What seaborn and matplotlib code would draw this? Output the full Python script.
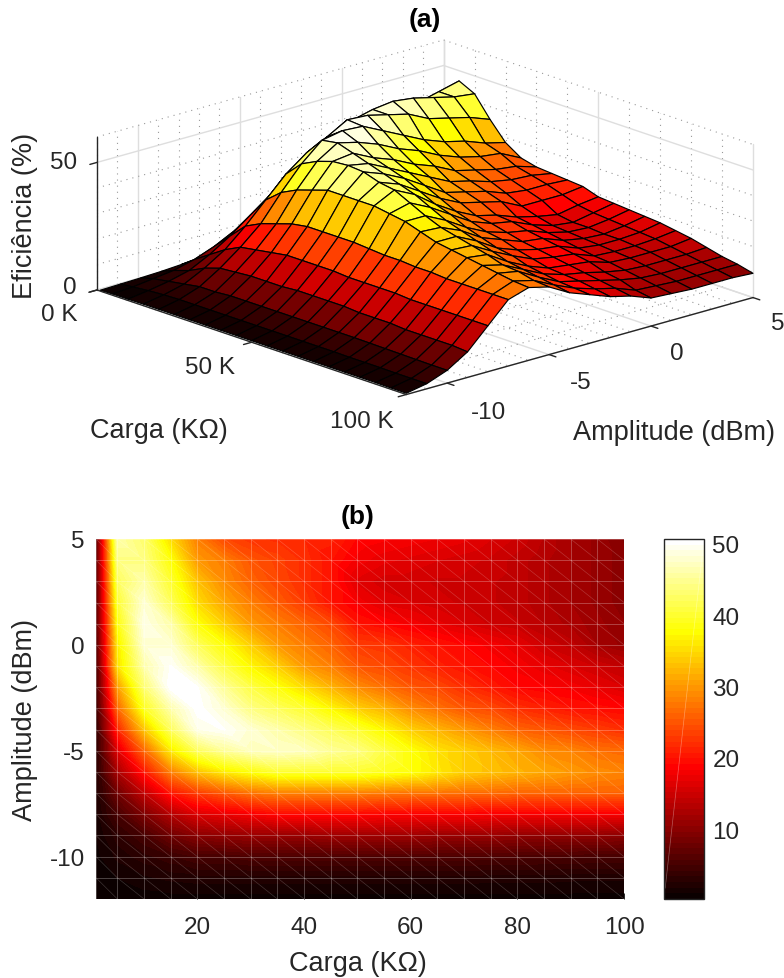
import numpy as np
import pandas as pd
import matplotlib
matplotlib.use('Agg')
import matplotlib.pyplot as plt
import matplotlib.tri as mtri
import seaborn as sns
from matplotlib.collections import LineCollection
from mpl_toolkits.mplot3d import Axes3D
from mpl_toolkits.mplot3d.proj3d import proj_transform

# dados
carga = [1, 5, 10, 15, 20, 25, 30, 35, 40, 45, 50, 55, 60, 65, 70, 75, 80, 85, 90, 95, 100]
amplitude = [-12, -11, -10, -9, -8, -7, -6, -5, -4, -3, -2, -1, 0, 1, 2, 3, 4, 5]
eficiencia = [
    [.3, .5, .5, .6, .6, .6, .6, .6, .6, .6, .6, .6, .6, .6, .6, .6, .6, .6, .6, .5, .5],
    [.5, 1, 1.6, 2, 2.2, 2.2, 2.2, 2.2, 2.2, 2.2, 2.2, 2.2, 2.2, 2.2, 2.2, 2.1, 2.1, 2.1, 2, 2, 2],
    [.7, 2, 3, 4, 5, 5, 5.5, 5.5, 5.5, 5.5, 5.5, 5.5, 5.5, 5.5, 5.5, 5.4, 5.3, 5.2, 5.1, 5, 5],
    [1, 3, 5, 8, 10, 10.5, 11, 11, 11, 11.5, 11.5, 11.5, 11.5, 11, 11, 11, 10.5, 10.5, 10.5, 10.5, 10],
    [1.5, 5, 9, 13, 16, 17, 18, 19, 19, 19, 19, 18.5, 18.5, 18.5, 18.5, 18, 18, 18, 18, 18, 18],
    [2, 8, 14, 20, 23, 25, 27, 28, 28, 28, 28, 27.5, 27, 27, 26.5, 26.5, 26, 26, 26, 26, 26],
    [2.5, 12, 20, 28, 33, 36, 38, 40, 40, 40, 40, 39, 38, 36, 34, 33, 32, 31, 30, 29, 28.5],
    [2.8, 16, 26, 36, 42, 45, 47, 47.5, 47, 45, 44, 41, 38, 35.5, 34, 32.5, 31, 29, 28.5, 27, 26.5],
    [3, 21, 33, 42, 49, 50, 48, 46, 44, 42, 40, 37, 34, 32, 30, 28, 26, 25, 24, 23, 22],
    [3.5, 26, 39, 46, 50.5, 48, 44, 42, 40, 37, 34, 32, 29, 27, 25, 24, 22, 21, 20, 19.5, 19],
    [4, 30, 43, 50.5, 50, 45, 41, 38, 35, 32, 29, 27, 25, 24, 22, 20.5, 19, 18.5, 18, 17, 16],
    [4.5, 35, 46, 50, 46, 41, 37, 34, 30, 28, 25, 24, 22.5, 21, 20, 19, 18, 17, 16, 15, 14],
    [5, 36, 48, 48, 42, 38, 34, 30, 28, 26, 23, 22.5, 21, 20, 19, 18, 17, 15, 14, 12, 11],
    [5.5, 38, 49, 46, 38, 34, 30, 28, 26, 24, 20, 19, 18, 17, 16, 15, 14.5, 13.5, 12.5, 11.5, 10.5],
    [5.5, 40, 48, 42, 35, 31, 28, 25.5, 23, 20, 18, 16.5, 16, 15.5, 15, 14.5, 14, 13, 12, 11, 10],
    [5.5, 42, 46, 40, 33, 29, 26, 24, 22, 20, 16.5, 15.5, 15.5, 15, 15, 14.5, 14, 13, 12, 11, 10],
    [5.5, 44, 44, 38, 30, 28, 25, 23.5, 22, 20, 18, 17, 16.5, 16, 15.5, 15, 14, 13, 12, 11, 10],
    [5.5, 46, 43, 35, 28, 24, 22.5, 22, 21.5, 21, 19, 18.5, 18, 17.5, 17, 16, 15, 13.5, 12, 11, 9.5],
]
carga_ticks_b = [20, 40, 60, 80, 100]
amp_ticks = [-10, -5, 0, 5]
escala_ticks = [10, 20, 30, 40, 50]

W, H = 784, 979
COR = '#262626'

sns.set_theme(style='white')
plt.rcParams['font.family'] = ['Liberation Sans', 'DejaVu Sans']
plt.rcParams['axes.unicode_minus'] = False

X, Y = np.meshgrid(carga, amplitude)
Z = np.array(eficiencia)
df = pd.DataFrame(Z, index=amplitude, columns=carga)
mapa = plt.get_cmap('hot', 64)
vmin, vmax = 0.2, 50.7

fig = plt.figure(figsize=(W / 100, H / 100), dpi=100, facecolor='white')


def texto(x, y, s, size=17.5, **kw):
    kw.setdefault('ha', 'center')
    kw.setdefault('va', 'center')
    kw.setdefault('color', COR)
    fig.text(x / W, 1 - y / H, s, fontsize=size, **kw)


# ---- (a) superficie ----
# eixo grande porque o 3D corta o que sai da caixa dele
ax = fig.add_axes([0, 0.2, 1.0, W / H], projection='3d', computed_zorder=False)
ax.set_proj_type('ortho')
ax.view_init(elev=17.9, azim=-42.3)
ax.set_xlim(0, 100)
ax.set_ylim(-12, 5)
ax.set_zlim(0, 60)
ax.set_axis_off()
ax.patch.set_alpha(0)
caixa = (460, 469, 161)
ax.set_box_aspect(caixa)


def projeta(x, y, z):
    px, py, _ = proj_transform(x, y, z, ax.get_proj())
    return ax.transData.transform((px, py))


# ajusta a escala para os cantos cairem onde estao na figura original
fig.canvas.draw()
largura = projeta(100, 5, 0)[0] - projeta(0, -12, 0)[0]
ax.set_box_aspect(caixa, zoom=656 / largura)
fig.canvas.draw()
canto = projeta(0, -12, 0)
pos = ax.get_position()
ax.set_position([pos.x0 + (97 - canto[0]) / W, pos.y0 + (H - 291 - canto[1]) / H, pos.width, pos.height])

# grade das paredes e do chao
solida = dict(color='0.87', lw=1.0, zorder=1)
pontos = dict(color='0.6', lw=0.8, ls=(0, (1, 4.5)), zorder=1)
for a in range(-12, 6):
    st = solida if a in amp_ticks else pontos
    ax.plot([0, 0], [a, a], [0, 60], **st)
    ax.plot([0, 100], [a, a], [0, 0], **st)
for c in range(0, 101, 10):
    st = solida if c in (0, 50, 100) else pontos
    ax.plot([c, c], [5, 5], [0, 60], **st)
    ax.plot([c, c], [-12, 5], [0, 0], **st)
for z in range(0, 61, 10):
    st = solida if z in (0, 50) else pontos
    ax.plot([0, 0], [-12, 5], [z, z], **st)
    ax.plot([0, 100], [5, 5], [z, z], **st)

ax.plot_surface(X, Y, Z, cmap=mapa, vmin=vmin, vmax=vmax, rstride=1, cstride=1,
                edgecolor='black', linewidth=0.85, shade=False, antialiased=True, zorder=2)

# eixos e marcas
eixo = dict(color=COR, lw=1.0, zorder=3)
ax.plot([0, 0], [-12, -12], [0, 60], **eixo)
ax.plot([0, 100], [-12, -12], [0, 0], **eixo)
ax.plot([100, 100], [-12, 5], [0, 0], **eixo)
for z in (0, 50):
    ax.plot([0, 0], [-12, -12.35], [z, z], **eixo)
for c in (0, 50, 100):
    ax.plot([c, c], [-12, -12.4], [0, 0], **eixo)
for a in amp_ticks:
    ax.plot([100, 102.2], [a, a], [0, 0], **eixo)

texto(425, 20, '(a)', size=19, fontweight='bold', color='black')
texto(25, 216, 'Eficiência (%)', size=19.5, rotation=90)
texto(77, 163, '50', ha='right')
texto(77, 288, '0', ha='right')
texto(59, 315, '0 K')
texto(210, 368, '50 K')
texto(362, 422, '100 K')
texto(159, 431, 'Carga (KΩ)', size=19.5)
texto(488, 413, '-10')
texto(581, 383, '-5')
texto(677, 354, '0')
texto(778, 324, '5')
texto(674, 433, 'Amplitude (dBm)', size=19.5)

# ---- (b) mapa de cores ----
ax2 = fig.add_axes([96 / W, 1 - 900 / H, 528 / W, 360 / H])
cax = fig.add_axes([664 / W, 1 - 900 / H, 40 / W, 360 / H])
sns.heatmap(df, ax=ax2, cbar_ax=cax, cmap=mapa, vmin=vmin, vmax=vmax,
            xticklabels=False, yticklabels=False)
malha = ax2.collections[0]
malha.set_visible(False)

# triangulos com a diagonal da figura, a cor varia no valor e nao no RGB
nx, ny = len(carga), len(amplitude)
triangulos = []
for j in range(ny - 1):
    for i in range(nx - 1):
        p = j * nx + i
        triangulos.append([p, p + 1, p + nx])
        triangulos.append([p + 1, p + nx + 1, p + nx])
tri = mtri.Triangulation(X.ravel(), Y.ravel(), triangulos)
niveis = np.linspace(vmin, vmax, 65)
ax2.tricontourf(tri, Z.ravel(), levels=niveis, cmap=mapa, vmin=vmin, vmax=vmax, extend='both', antialiased=False)
ax2.set_xlim(carga[0], carga[-1])
ax2.set_ylim(amplitude[0], amplitude[-1])

# costuras claras dos triangulos
grade = []
for a in amplitude:
    grade.append([(carga[0], a), (carga[-1], a)])
for c in carga:
    grade.append([(c, amplitude[0]), (c, amplitude[-1])])
diagonais = []
for i in range(nx - 1):
    for j in range(ny - 1):
        diagonais.append([(carga[i], amplitude[j + 1]), (carga[i + 1], amplitude[j])])
ax2.add_collection(LineCollection(grade, colors='white', linewidths=0.6, alpha=0.3))
ax2.add_collection(LineCollection(diagonais, colors='white', linewidths=0.5, alpha=0.2))

for s in ax2.spines.values():
    s.set_visible(False)
ax2.set_xticks(carga_ticks_b)
ax2.set_xticklabels([str(v) for v in carga_ticks_b])
ax2.set_yticks(amp_ticks)
ax2.set_yticklabels([str(v) for v in amp_ticks])
ax2.tick_params(axis='both', direction='in', length=4, width=0.7, color=COR, labelsize=17.5,
                labelcolor=COR, left=True, bottom=True, pad=8)
ax2.tick_params(axis='x', pad=12)
ax2.tick_params(axis='y', labelrotation=0)
texto(358, 517, '(b)', size=19, fontweight='bold', color='black')
texto(25, 720, 'Amplitude (dBm)', size=19.5, rotation=90)
texto(358, 964, 'Carga (KΩ)', size=19.5)

cb = malha.colorbar
cb.outline.set_visible(True)
cb.outline.set_linewidth(1.0)
cb.outline.set_edgecolor(COR)
cb.set_ticks(escala_ticks)
cax.tick_params(axis='y', direction='in', length=4, width=0.8, color=COR, labelsize=17.5,
                labelcolor=COR, right=True, pad=6)
cax.plot([0.03, 0.97], [0.03, 0.97], transform=cax.transAxes, color='white', lw=0.5, alpha=0.35)

fig.savefig('out.png', dpi=100)
